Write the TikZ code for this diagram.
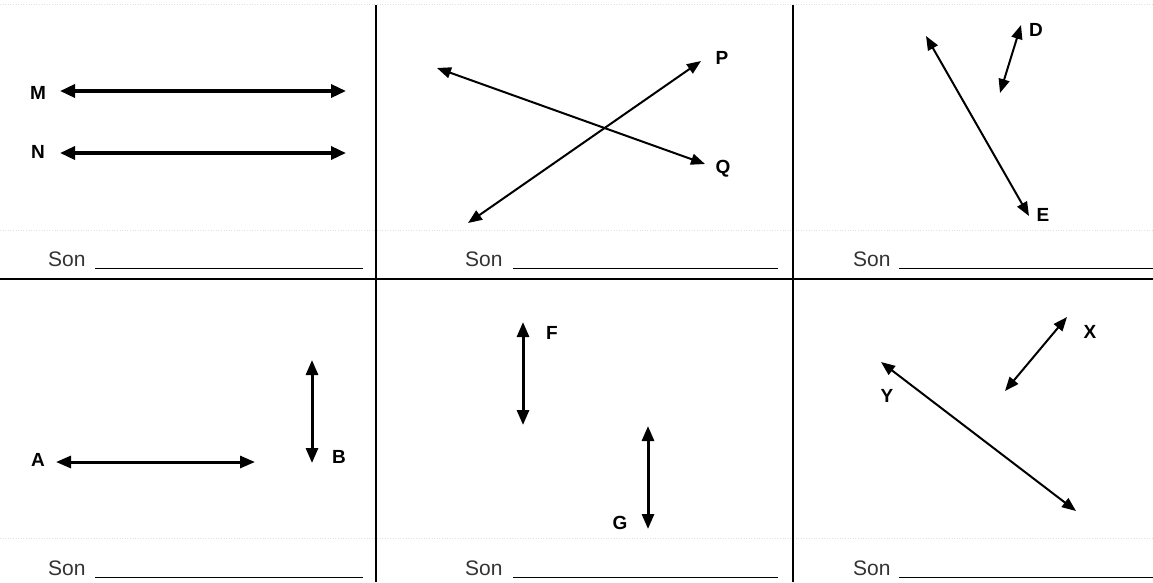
\documentclass[tikz,border=0pt]{standalone}
\usepackage{fontspec}
\setmainfont{Liberation Sans}
\usetikzlibrary{arrows.meta}
\begin{document}
\begin{tikzpicture}[x=1pt,y=-1pt,
  grid/.style={line width=1.4pt,black},
  faint/.style={dotted,line width=0.6pt,black!12},
  uline/.style={line width=1pt,black},
  sontext/.style={anchor=base west,inner sep=0pt,text=black!80,font=\fontsize{21}{24}\selectfont},
  lab/.style={inner sep=0pt,font=\fontsize{19}{22}\selectfont\bfseries},
  thick3/.style={{Triangle[length=15pt,width=13pt]}-{Triangle[length=15pt,width=13pt]},line width=3.4pt},
  thick2/.style={{Triangle[length=15pt,width=12pt]}-{Triangle[length=15pt,width=12pt]},line width=3pt},
  thin2/.style={{Triangle[length=14pt,width=11pt]}-{Triangle[length=14pt,width=11pt]},line width=2pt}]
\useasboundingbox (0,0) rectangle (1153,582);
\fill[white] (0,0) rectangle (1153,582);
% faint dotted guide lines
\coordinate (f1a) at (0,4); \coordinate (f1b) at (1153,4);
\coordinate (f2a) at (0,230); \coordinate (f2b) at (1153,230);
\coordinate (f3a) at (0,538); \coordinate (f3b) at (1153,538);
\draw[faint] (f1a) -- (f1b);
\draw[faint] (f2a) -- (f2b);
\draw[faint] (f3a) -- (f3b);
% grid
\coordinate (g1a) at (376,5); \coordinate (g1b) at (376,582);
\coordinate (g2a) at (793,5); \coordinate (g2b) at (793,582);
\coordinate (g3a) at (0,279); \coordinate (g3b) at (1153,279);
\draw[grid] (g1a) -- (g1b);
\draw[grid] (g2a) -- (g2b);
\draw[grid] (g3a) -- (g3b);
% Son lines
\node[sontext] (s1) at (48,266) {Son};
\node[sontext] (s2) at (465,266) {Son};
\node[sontext] (s3) at (853,266) {Son};
\node[sontext] (s4) at (48,575) {Son};
\node[sontext] (s5) at (465,575) {Son};
\node[sontext] (s6) at (853,575) {Son};
\coordinate (u1a) at (95,268); \coordinate (u1b) at (363,268);
\coordinate (u2a) at (513,268); \coordinate (u2b) at (778,268);
\coordinate (u3a) at (899,268); \coordinate (u3b) at (1153,268);
\coordinate (u4a) at (95,577); \coordinate (u4b) at (363,577);
\coordinate (u5a) at (513,577); \coordinate (u5b) at (778,577);
\coordinate (u6a) at (899,577); \coordinate (u6b) at (1153,577);
\draw[uline] (u1a) -- (u1b);
\draw[uline] (u2a) -- (u2b);
\draw[uline] (u3a) -- (u3b);
\draw[uline] (u4a) -- (u4b);
\draw[uline] (u5a) -- (u5b);
\draw[uline] (u6a) -- (u6b);
% Panel 1
\node[lab] (M) at (38,93) {M};
\node[lab] (N) at (38,152) {N};
\coordinate (m1) at (60,91); \coordinate (m2) at (346,91);
\coordinate (n1) at (60,153); \coordinate (n2) at (346,153);
\draw[thick3] (m1) -- (m2);
\draw[thick3] (n1) -- (n2);
% Panel 2
\node[lab] (P) at (722,58) {P};
\node[lab] (Q) at (723,169) {Q};
\coordinate (q1) at (437,68); \coordinate (q2) at (705,164);
\coordinate (p1) at (468,223); \coordinate (p2) at (701,61);
\draw[thin2] (q1) -- (q2);
\draw[thin2] (p1) -- (p2);
% Panel 3
\node[lab] (E) at (1043,215) {E};
\node[lab] (D) at (1036,30) {D};
\coordinate (e1) at (926,36); \coordinate (e2) at (1029,216);
\coordinate (d1) at (1021,25); \coordinate (d2) at (1000,93);
\draw[thin2] (e1) -- (e2);
\draw[thin2] (d1) -- (d2);
% Panel 4
\node[lab] (A) at (38,460) {A};
\node[lab] (B) at (339,457) {B};
\coordinate (a1) at (56,462); \coordinate (a2) at (255,462);
\coordinate (b1) at (312,360); \coordinate (b2) at (312,463);
\draw[thick2] (a1) -- (a2);
\draw[thick2] (b1) -- (b2);
% Panel 5
\node[lab] (F) at (552,333) {F};
\node[lab] (G) at (620,523) {G};
\coordinate (fa) at (523,322); \coordinate (fb) at (523,425);
\coordinate (ga) at (648,426); \coordinate (gb) at (648,529);
\draw[thick2] (fa) -- (fb);
\draw[thick2] (ga) -- (gb);
% Panel 6
\node[lab] (X) at (1090,332) {X};
\node[lab] (Y) at (887,396) {Y};
\coordinate (y1) at (881,362); \coordinate (y2) at (1076,511);
\coordinate (x1) at (1067,317); \coordinate (x2) at (1005,391);
\draw[thin2] (y1) -- (y2);
\draw[thin2] (x1) -- (x2);
\end{tikzpicture}
\end{document}
